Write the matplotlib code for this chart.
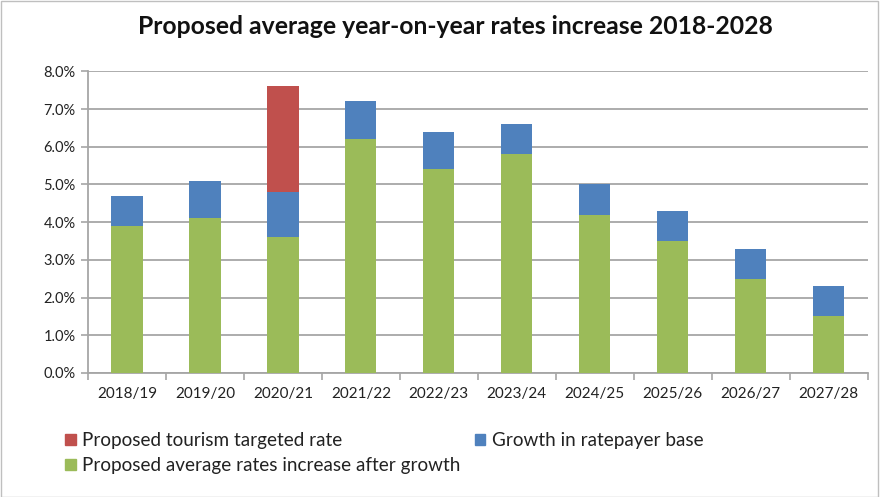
import matplotlib
matplotlib.use("Agg")
import matplotlib.pyplot as plt
from matplotlib.patches import Patch, Rectangle
from matplotlib.ticker import FuncFormatter, FixedLocator
import numpy as np

years = ["2018/19", "2019/20", "2020/21", "2021/22", "2022/23",
         "2023/24", "2024/25", "2025/26", "2026/27", "2027/28"]
after_growth = [3.9, 4.1, 3.6, 6.2, 5.4, 5.8, 4.2, 3.5, 2.5, 1.5]
ratepayer_growth = [0.8, 1.0, 1.2, 1.0, 1.0, 0.8, 0.8, 0.8, 0.8, 0.8]
tourism_rate = [0, 0, 2.8, 0, 0, 0, 0, 0, 0, 0]

GREEN = "#9BBB59"
BLUE = "#4F81BD"
RED = "#C0504D"
GRID = "#A6A6A6"

plt.rcParams["font.family"] = ["Lato", "DejaVu Sans"]

fig = plt.figure(figsize=(8.8, 4.97), dpi=100)
ax = fig.add_axes([0.1, 0.2495, 0.886, 0.607])

x = np.arange(len(years))
w = 0.4
g = np.array(after_growth)
b = np.array(ratepayer_growth)
r = np.array(tourism_rate)
ax.bar(x, g, w, color=GREEN, zorder=3)
ax.bar(x, b, w, bottom=g, color=BLUE, zorder=3)
ax.bar(x, r, w, bottom=g + b, color=RED, zorder=3)

ax.set_xlim(-0.5, len(years) - 0.5)
ax.set_ylim(0, 8)
ax.set_yticks(np.arange(0, 8.01, 1))
ax.yaxis.set_major_formatter(FuncFormatter(lambda v, _: f"{v:.1f}%"))
ax.grid(axis="y", color=GRID, lw=1.3, zorder=0)

ax.set_xticks(x)
ax.set_xticklabels(years)
ax.xaxis.set_minor_locator(FixedLocator(np.arange(-0.5, len(years), 1)))
ax.tick_params(axis="x", which="major", length=0, pad=10, labelsize=11)
ax.tick_params(axis="x", which="minor", length=5, color=GRID, width=1.2)
ax.tick_params(axis="y", length=5, color=GRID, width=1.2, pad=4, labelsize=10.5)
ax.tick_params(labelcolor="#222222")

for side in ["top", "right"]:
    ax.spines[side].set_visible(False)
for side in ["left", "bottom"]:
    ax.spines[side].set_color(GRID)
    ax.spines[side].set_linewidth(1.3)

fig.text(0.518, 0.946, "Proposed average year-on-year rates increase 2018-2028",
         ha="center", va="center", fontsize=17.8, fontweight="bold", color="#111111")

handles = [Patch(color=RED, label="Proposed tourism targeted rate"),
           Patch(color=GREEN, label="Proposed average rates increase after growth"),
           Patch(color=BLUE, label="Growth in ratepayer base")]
fig.legend(handles=handles, ncol=2, loc="upper left", bbox_to_anchor=(0.074, 0.13),
           frameon=False, fontsize=13.6, handlelength=0.55, handleheight=0.55,
           handletextpad=0.35, columnspacing=0.75, labelspacing=0.4,
           borderaxespad=0, borderpad=0, labelcolor="#222222")

fig.patches.append(Rectangle((0.001, 0.001), 0.997, 0.997, transform=fig.transFigure,
                             fill=False, edgecolor="#BFBFBF", lw=1))

fig.savefig("out.png", dpi=100)
